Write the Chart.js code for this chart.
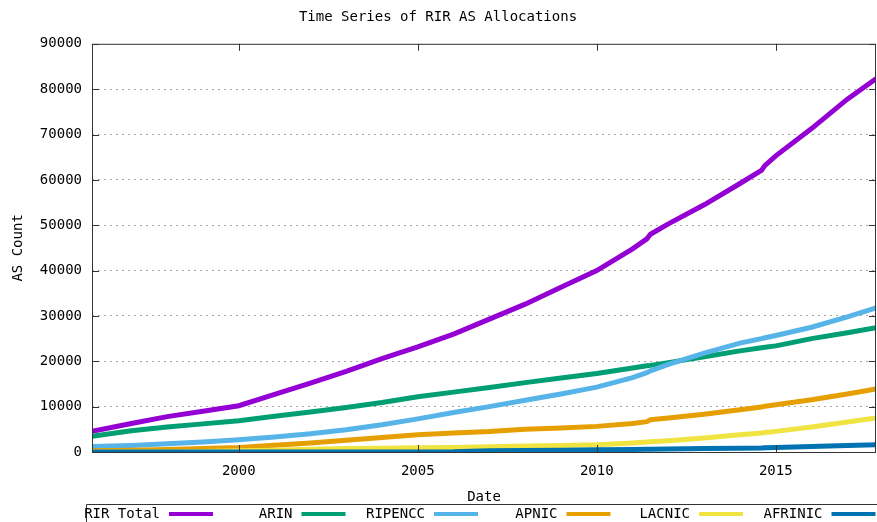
<!DOCTYPE html>
<html>
<head>
<meta charset="utf-8">
<script src="https://cdn.jsdelivr.net/npm/chart.js@4.4.1/dist/chart.umd.min.js"></script>
<style>
  html, body { margin: 0; padding: 0; background: #fff; }
  canvas { display: block; }
</style>
</head>
<body>
<canvas id="rir-chart" width="877" height="522"></canvas>
<script>
// values (decimal year -> AS count)
const years = [1995.9, 1997, 1998, 1999, 2000, 2001, 2002, 2003, 2004, 2005, 2006, 2007, 2008,
  2009, 2010, 2011, 2011.4, 2011.5, 2012, 2013, 2014, 2014.6, 2014.7, 2015, 2016, 2017, 2017.8];

const rirTotal = [4550, 6300, 7800, 9000, 10200, 12700, 15200, 17800, 20600, 23200, 26000, 29300, 32600,
  36300, 40000, 44800, 47000, 48000, 50300, 54500, 59200, 62100, 63200, 65300, 71300, 77800, 82300];
const arin = [3450, 4700, 5500, 6200, 6900, 7900, 8800, 9800, 10900, 12200, 13200, 14200, 15300,
  16300, 17300, 18500, 19000, 19100, 19700, 21000, 22300, 23000, 23100, 23400, 25000, 26300, 27400];
const ripencc = [1200, 1450, 1800, 2200, 2700, 3300, 4000, 4900, 6000, 7300, 8700, 10000, 11400,
  12800, 14300, 16400, 17500, 17900, 19300, 21800, 24000, 25000, 25200, 25700, 27500, 29800, 31800];
const apnic = [300, 400, 550, 750, 1000, 1500, 2000, 2600, 3200, 3800, 4200, 4500, 5000,
  5300, 5650, 6300, 6700, 7100, 7500, 8300, 9300, 9900, 10100, 10400, 11500, 12800, 13900];
const lacnic = [0, 0, 0, 100, 250, 400, 600, 750, 850, 950, 1000, 1150, 1300,
  1450, 1600, 2000, 2200, 2250, 2500, 3100, 3800, 4200, 4300, 4550, 5500, 6600, 7500];
const afrinic = [0, 0, 0, 0, 0, 0, 0, 0, 0, 0, 50, 300, 350,
  400, 500, 550, 580, 600, 650, 750, 850, 900, 950, 1000, 1200, 1450, 1600];

const seriesNames = ['RIR Total', 'ARIN', 'RIPENCC', 'APNIC', 'LACNIC', 'AFRINIC'];
const seriesData = [rirTotal, arin, ripencc, apnic, lacnic, afrinic];
const seriesColors = ['#9400d3', '#009e73', '#56b4e9', '#e69f00', '#f0e442', '#0072b2'];

const xMin = 1995.9;
const xMax = 2017.8;

const FONT = 'DejaVu Sans Mono';

// gnuplot style frame: box border, inward ticks and a key row under the plot
const frame = {
  id: 'frame',
  afterDraw(chart) {
    const { ctx, chartArea: a, scales } = chart;
    ctx.save();
    ctx.strokeStyle = '#333';
    ctx.lineWidth = 1;
    ctx.strokeRect(a.left + 0.5, a.top + 0.5, a.right - a.left - 1, a.bottom - a.top);

    ctx.beginPath();
    scales.y.ticks.forEach(t => {
      const y = Math.round(scales.y.getPixelForValue(t.value)) + 0.5;
      ctx.moveTo(a.left, y); ctx.lineTo(a.left + 7, y);
      ctx.moveTo(a.right, y); ctx.lineTo(a.right - 7, y);
    });
    scales.x.ticks.forEach(t => {
      const x = Math.round(scales.x.getPixelForValue(t.value)) + 0.5;
      ctx.moveTo(x, a.bottom); ctx.lineTo(x, a.bottom - 7);
      ctx.moveTo(x, a.top); ctx.lineTo(x, a.top + 7);
    });
    ctx.stroke();

    // key box
    const keyTop = 504.5;
    ctx.beginPath();
    ctx.moveTo(86.5, chart.height);
    ctx.lineTo(86.5, keyTop);
    ctx.lineTo(chart.width, keyTop);
    ctx.stroke();

    ctx.font = '14px "' + FONT + '"';
    ctx.fillStyle = '#000';
    ctx.textAlign = 'right';
    ctx.textBaseline = 'middle';
    chart.data.datasets.forEach((ds, i) => {
      const lineStart = 169 + i * 132.5;
      const y = 514;
      ctx.fillText(ds.label, lineStart - 9, y);
      ctx.strokeStyle = ds.borderColor;
      ctx.lineWidth = 4;
      ctx.beginPath();
      ctx.moveTo(lineStart, y);
      ctx.lineTo(lineStart + 44, y);
      ctx.stroke();
    });
    ctx.restore();
  }
};

const ctx = document.getElementById('rir-chart').getContext('2d');

new Chart(ctx, {
  type: 'line',
  data: {
    datasets: seriesNames.map((name, i) => ({
      label: name,
      data: years.map((x, j) => ({ x: x, y: seriesData[i][j] })),
      borderColor: seriesColors[i],
      backgroundColor: seriesColors[i],
      borderWidth: 5,
      pointRadius: 0,
      tension: 0,
      fill: false,
      order: seriesNames.length - i,
    })),
  },
  options: {
    responsive: false,
    animation: false,
    devicePixelRatio: 1,
    layout: { padding: { top: 0, right: 1, bottom: 0, left: 0 } },
    plugins: {
      legend: { display: false },
      tooltip: { enabled: false },
      title: {
        display: true,
        text: 'Time Series of RIR AS Allocations',
        color: '#000',
        font: { family: FONT, size: 14, weight: 'normal' },
        padding: { top: 9, bottom: 18 },
      },
    },
    scales: {
      x: {
        type: 'linear',
        min: xMin,
        max: xMax,
        afterFit: scale => { scale.height = 70; },
        grid: { display: false, drawTicks: false },
        border: { display: false },
        ticks: {
          stepSize: 5,
          includeBounds: false,
          padding: 11,
          color: '#000',
          font: { family: FONT, size: 14 },
          maxRotation: 0,
          callback: v => String(v),
        },
        title: {
          display: true,
          text: 'Date',
          color: '#000',
          font: { family: FONT, size: 14 },
          padding: { top: 0, bottom: 16 },
        },
      },
      y: {
        min: 0,
        max: 90000,
        afterFit: scale => { scale.width = 92; },
        grid: {
          drawTicks: false,
          lineWidth: 1,
          color: c => (c.tick && (c.tick.value === 0 || c.tick.value === 90000)) ? 'rgba(0,0,0,0)' : '#a8a8a8',
        },
        border: { display: false, dash: [2, 4] },
        ticks: {
          stepSize: 10000,
          padding: 10,
          color: '#000',
          font: { family: FONT, size: 14 },
          callback: v => String(v),
        },
        title: {
          display: true,
          text: 'AS Count',
          color: '#000',
          font: { family: FONT, size: 14 },
          padding: { top: 10, bottom: 0 },
        },
      },
    },
  },
  plugins: [frame],
});
</script>
</body>
</html>
